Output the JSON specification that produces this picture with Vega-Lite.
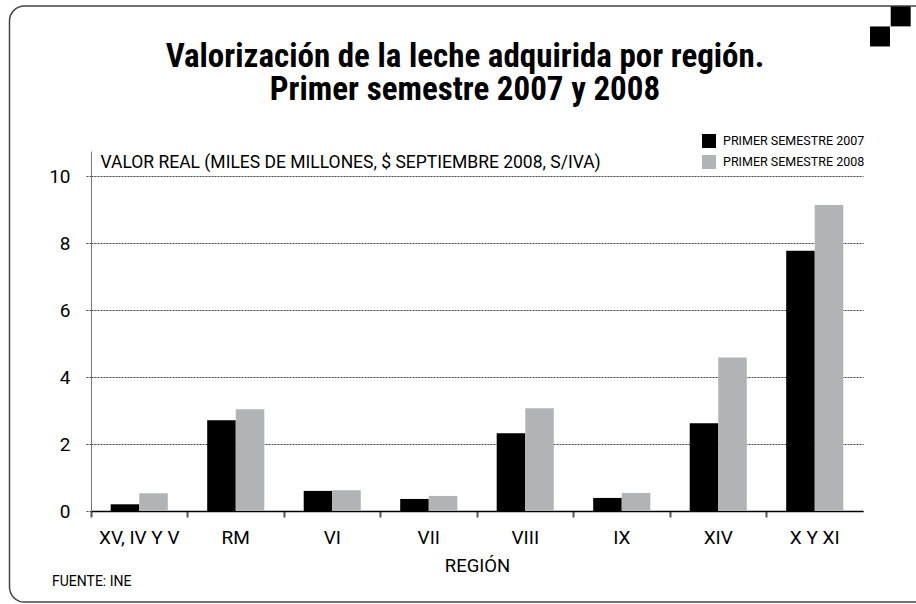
{
  "$schema": "https://vega.github.io/schema/vega-lite/v6.json",
  "width": 772,
  "height": 360,
  "autosize": "none",
  "padding": {"left": 91, "top": 151, "right": 53, "bottom": 93},
  "background": "white",
  "title": {
    "text": ["Valorización de la leche adquirida por región.", "Primer semestre 2007 y 2008"],
    "font": "'Roboto Condensed', 'DejaVu Sans Condensed', Roboto, sans-serif",
    "fontSize": 33,
    "fontWeight": "bold",
    "color": "#000000",
    "anchor": "middle",
    "dx": -12,
    "lineHeight": 33,
    "offset": -102
  },
  "config": {
    "view": {"stroke": null},
    "font": "Roboto, sans-serif"
  },
  "layer": [
    {
      "data": {
        "values": [
          {"region": "XV, IV Y V", "serie": "PRIMER SEMESTRE 2007", "valor": 0.2},
          {"region": "XV, IV Y V", "serie": "PRIMER SEMESTRE 2008", "valor": 0.53},
          {"region": "RM", "serie": "PRIMER SEMESTRE 2007", "valor": 2.71},
          {"region": "RM", "serie": "PRIMER SEMESTRE 2008", "valor": 3.04},
          {"region": "VI", "serie": "PRIMER SEMESTRE 2007", "valor": 0.6},
          {"region": "VI", "serie": "PRIMER SEMESTRE 2008", "valor": 0.62},
          {"region": "VII", "serie": "PRIMER SEMESTRE 2007", "valor": 0.36},
          {"region": "VII", "serie": "PRIMER SEMESTRE 2008", "valor": 0.45},
          {"region": "VIII", "serie": "PRIMER SEMESTRE 2007", "valor": 2.32},
          {"region": "VIII", "serie": "PRIMER SEMESTRE 2008", "valor": 3.07},
          {"region": "IX", "serie": "PRIMER SEMESTRE 2007", "valor": 0.39},
          {"region": "IX", "serie": "PRIMER SEMESTRE 2008", "valor": 0.54},
          {"region": "XIV", "serie": "PRIMER SEMESTRE 2007", "valor": 2.62},
          {"region": "XIV", "serie": "PRIMER SEMESTRE 2008", "valor": 4.58},
          {"region": "X Y XI", "serie": "PRIMER SEMESTRE 2007", "valor": 7.77},
          {"region": "X Y XI", "serie": "PRIMER SEMESTRE 2008", "valor": 9.14}
        ]
      },
      "mark": {"type": "bar"},
      "encoding": {
        "x": {
          "field": "region",
          "type": "nominal",
          "sort": ["XV, IV Y V", "RM", "VI", "VII", "VIII", "IX", "XIV", "X Y XI"],
          "scale": {"paddingInner": 0, "paddingOuter": 0},
          "axis": {
            "bandPosition": 0,
            "ticks": true,
            "tickSize": 6,
            "tickColor": "#555555",
            "tickWidth": 2,
            "domainColor": "#000000",
            "domainWidth": 1.5,
            "labelAngle": 0,
            "labelFontSize": 19,
            "labelPadding": 11,
            "labelColor": "#000000",
            "title": "REGIÓN",
            "titleFontSize": 18.5,
            "titleFontWeight": "normal",
            "titleColor": "#000000",
            "titlePadding": 9
          }
        },
        "xOffset": {
          "field": "serie",
          "type": "nominal",
          "scale": {"paddingInner": 0, "paddingOuter": 0.69}
        },
        "y": {
          "field": "valor",
          "type": "quantitative",
          "scale": {"domain": [0, 10.75], "nice": false},
          "axis": {
            "values": [0, 2, 4, 6, 8, 10],
            "grid": true,
            "gridDash": [2, 1],
            "gridColor": "#444444",
            "gridWidth": 1,
            "domainColor": "#777777",
            "domainWidth": 1,
            "tickColor": "#444444",
            "tickDash": [2, 1],
            "tickSize": 6,
            "labelFontSize": 19,
            "labelPadding": 15,
            "labelColor": "#000000",
            "title": "VALOR REAL (MILES DE MILLONES, $ SEPTIEMBRE  2008, S/IVA)",
            "titleAngle": 0,
            "titleAlign": "left",
            "titleBaseline": "alphabetic",
            "titleX": 9,
            "titleY": 16,
            "titleFontSize": 17.5,
            "titleFontWeight": "normal",
            "titleColor": "#000000"
          }
        },
        "color": {
          "field": "serie",
          "type": "nominal",
          "scale": {"range": ["#000000", "#b2b3b5"]},
          "legend": {
            "orient": "none",
            "legendX": 611,
            "legendY": -17,
            "title": null,
            "padding": 0,
            "symbolType": "square",
            "symbolSize": 196,
            "symbolStrokeWidth": 0,
            "labelFontSize": 12.5,
            "labelColor": "#000000",
            "labelOffset": 7,
            "rowPadding": 7
          }
        }
      }
    },
    {
      "data": {"values": [{"elemento": "marco"}]},
      "mark": {
        "type": "rect",
        "fill": null,
        "stroke": "#444444",
        "strokeWidth": 1.5,
        "cornerRadius": 15,
        "clip": false,
        "xOffset": -81.5,
        "x2Offset": 143
      },
      "encoding": {
        "x": {"datum": "XV, IV Y V", "type": "nominal", "bandPosition": 0},
        "x2": {"datum": "X Y XI"},
        "y": {"datum": 15.08, "type": "quantitative"},
        "y2": {"datum": -2.72}
      }
    },
    {
      "data": {"values": [{"elemento": "cuadro superior"}]},
      "mark": {
        "type": "point",
        "shape": "square",
        "size": 400,
        "filled": true,
        "fill": "#000000",
        "opacity": 1,
        "strokeWidth": 0,
        "clip": false,
        "xOffset": 37.7
      },
      "encoding": {
        "x": {"datum": "X Y XI", "type": "nominal", "bandPosition": 1},
        "y": {"datum": 14.77, "type": "quantitative"}
      }
    },
    {
      "data": {"values": [{"elemento": "cuadro inferior"}]},
      "mark": {
        "type": "point",
        "shape": "square",
        "size": 400,
        "filled": true,
        "fill": "#000000",
        "opacity": 1,
        "strokeWidth": 0,
        "clip": false,
        "xOffset": 17
      },
      "encoding": {
        "x": {"datum": "X Y XI", "type": "nominal", "bandPosition": 1},
        "y": {"datum": 14.17, "type": "quantitative"}
      }
    },
    {
      "data": {"values": [{"nota": "FUENTE: INE"}]},
      "mark": {
        "type": "text",
        "align": "left",
        "baseline": "middle",
        "dx": -39,
        "fontSize": 14,
        "color": "#000000"
      },
      "encoding": {
        "x": {"datum": "XV, IV Y V", "type": "nominal", "bandPosition": 0},
        "y": {"datum": -2.12, "type": "quantitative"},
        "text": {"field": "nota"}
      }
    }
  ]
}
